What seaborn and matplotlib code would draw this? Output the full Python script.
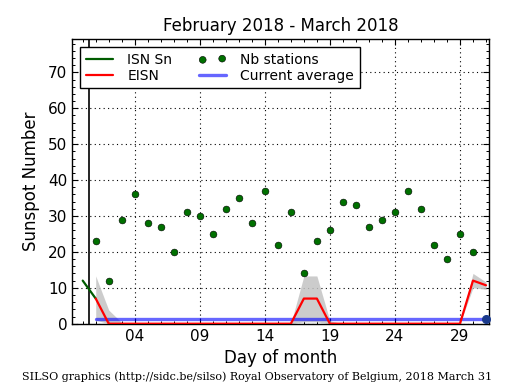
import numpy as np
import pandas as pd
import matplotlib
matplotlib.use("Agg")
import matplotlib.pyplot as plt
from matplotlib.ticker import MultipleLocator, FixedLocator, FixedFormatter
import seaborn as sns

# ---- data ----
isn_days = [0, 1]
isn_values = [12, 7]

eisn_days = [1, 2, 3, 4, 5, 6, 7, 8, 9, 10, 11, 12, 13, 14, 15, 16,
             17, 18, 19, 20, 21, 22, 23, 24, 25, 26, 27, 28, 29, 30, 31]
eisn_values = [7, 0, 0, 0, 0, 0, 0, 0, 0, 0, 0, 0, 0, 0, 0, 0,
               7, 7, 0, 0, 0, 0, 0, 0, 0, 0, 0, 0, 0, 12, 10.7]
eisn_low = [1, 0, 0, 0, 0, 0, 0, 0, 0, 0, 0, 0, 0, 0, 0, 0,
            0.5, 0.5, 0, 0, 0, 0, 0, 0, 0, 0, 0, 0, 0, 10, 9.6]
eisn_high = [13.3, 3.8, 0.3, 0, 0, 0, 0, 0, 0, 0, 0, 0, 0, 0, 0, 0,
             13.3, 13.3, 0.8, 0, 0, 0, 0, 0, 0, 0, 0, 0, 0, 14, 11.6]

station_days = [1, 2, 3, 4, 5, 6, 7, 8, 9, 10, 11, 12, 13, 14, 15,
                16, 17, 18, 19, 20, 21, 22, 23, 24, 25, 26, 27, 28, 29, 30]
station_counts = [23, 12, 29, 36, 28, 27, 20, 31, 30, 25, 32, 35, 28, 37, 22,
                  31, 14, 23, 26, 34, 33, 27, 29, 31, 37, 32, 22, 18, 25, 20]

avg_days = [1, 31]
avg_values = [1.2, 1.2]

xtick_pos = [4, 9, 14, 19, 24, 29]
xtick_labels = ["04", "09", "14", "19", "24", "29"]

# ---- style ----
sns.set_style("ticks")
plt.rcParams["font.family"] = ["DejaVu Sans"]
plt.rcParams["text.color"] = "black"
plt.rcParams["axes.labelcolor"] = "black"
plt.rcParams["xtick.color"] = "black"
plt.rcParams["ytick.color"] = "black"
plt.rcParams["xtick.direction"] = "in"
plt.rcParams["ytick.direction"] = "in"
plt.rcParams["xtick.top"] = True
plt.rcParams["ytick.right"] = True

fig = plt.figure(figsize=(5.15, 3.9), dpi=100)
ax = fig.add_axes([0.1404, 0.170, 0.950 - 0.1404, 0.8992 - 0.170])

df_isn = pd.DataFrame({"day": isn_days, "val": isn_values})
df_eisn = pd.DataFrame({"day": eisn_days, "val": eisn_values,
                        "lo": eisn_low, "hi": eisn_high})
df_st = pd.DataFrame({"day": station_days, "n": station_counts})
df_avg = pd.DataFrame({"day": avg_days, "val": avg_values})

ax.fill_between(df_eisn["day"], df_eisn["lo"], df_eisn["hi"],
                color="#c4c4c4", alpha=0.85, lw=0, zorder=1)

sns.lineplot(data=df_isn, x="day", y="val", ax=ax, color="#005c00",
             lw=1.6, label="ISN Sn", estimator=None, zorder=3)
sns.lineplot(data=df_eisn, x="day", y="val", ax=ax, color="red",
             lw=1.6, label="EISN", estimator=None, zorder=4)
sns.scatterplot(data=df_st, x="day", y="n", ax=ax, color="#007000",
                edgecolor="black", linewidth=0.4, s=24, label="Nb stations",
                zorder=5)
sns.lineplot(data=df_avg, x="day", y="val", ax=ax, color="blue", alpha=0.6,
             lw=2.4, label="Current average", estimator=None, zorder=3)
ax.plot([avg_days[-1]], [avg_values[-1]], "o", color="#1a3a8c", ms=5.5,
        zorder=6, clip_on=False)

ax.axvline(0.5, color="black", lw=1.2, zorder=2)

ax.set_xlim(-0.8, 31.25)
ax.set_ylim(0, 79.2)
ax.xaxis.set_major_locator(FixedLocator(xtick_pos))
ax.xaxis.set_major_formatter(FixedFormatter(xtick_labels))
ax.xaxis.set_minor_locator(MultipleLocator(1))
ax.yaxis.set_major_locator(MultipleLocator(10))
ax.yaxis.set_minor_locator(MultipleLocator(2))
ax.tick_params(which="major", length=4.5, width=0.8, labelsize=11,
               color="black", labelcolor="black")
ax.tick_params(which="minor", length=2.2, width=0.7, color="black")
ax.grid(True, which="major", linestyle=(0, (1, 3)), color="black", lw=0.8)
for s in ax.spines.values():
    s.set_color("black")
    s.set_linewidth(1.0)

ax.set_xlabel("Day of month", fontsize=12, labelpad=4, color="black")
ax.set_ylabel("Sunspot Number", fontsize=12, labelpad=6, color="black")
ax.set_title("February 2018 - March 2018", fontsize=12, pad=6, color="black")

handles, labels = ax.get_legend_handles_labels()
order = [labels.index(l) for l in ["ISN Sn", "EISN", "Nb stations", "Current average"]]
leg = ax.legend([handles[i] for i in order], [labels[i] for i in order],
                ncol=2, loc="upper left", fontsize=10, frameon=True,
                fancybox=False, edgecolor="black", framealpha=1,
                scatterpoints=2, borderaxespad=0.55, handlelength=2.0,
                columnspacing=1.9, labelspacing=0.15, borderpad=0.4,
                handletextpad=1.0)
leg.get_frame().set_linewidth(1.0)
for t in leg.get_texts():
    t.set_color("black")

fig.text(0.5, 0.035, "SILSO graphics (http://sidc.be/silso) Royal Observatory of Belgium, 2018 March 31",
         ha="center", va="center", fontsize=8, family="DejaVu Serif", color="black")

fig.savefig("out.png", dpi=100)
